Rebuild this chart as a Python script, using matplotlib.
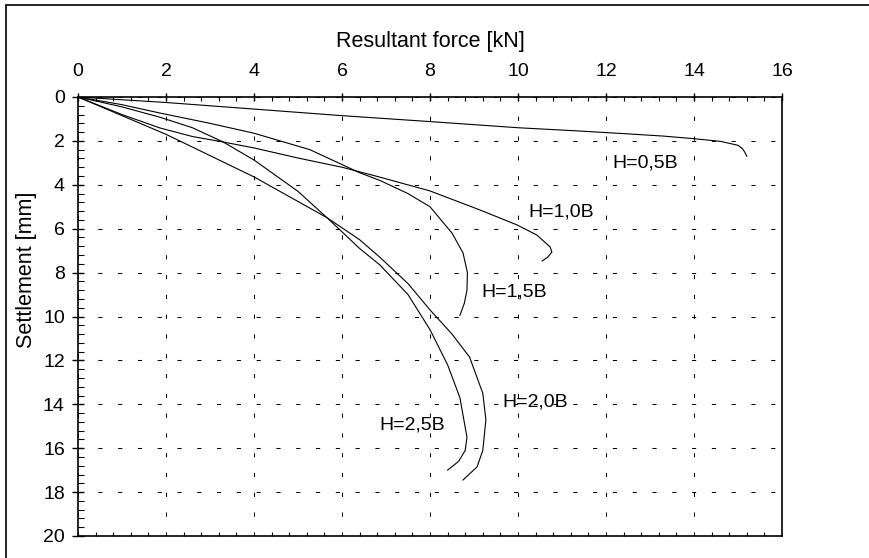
import matplotlib.pyplot as plt
from matplotlib.patches import Rectangle
from matplotlib.ticker import MultipleLocator

plt.rcParams['font.family'] = ['Liberation Sans', 'DejaVu Sans']

# H = 0,5B
f05 = [0, 2, 4, 6, 8, 10, 11.4, 12.5, 13.3, 14.0, 14.6, 15.0, 15.1, 15.15, 15.2]
s05 = [0, 0.25, 0.55, 0.85, 1.12, 1.4, 1.55, 1.68, 1.78, 1.9, 2.02, 2.2, 2.35, 2.5, 2.7]

# H = 1,0B
f10 = [0, 1.0, 1.86, 2.6, 3.3, 4.0, 5.0, 6.0, 6.86, 8.0, 9.14, 9.98, 10.43, 10.73, 10.77, 10.68, 10.55]
s10 = [0, 0.8, 1.41, 1.8, 2.05, 2.32, 2.78, 3.2, 3.65, 4.28, 5.15, 5.83, 6.29, 6.83, 7.06, 7.29, 7.47]

# H = 1,5B
f15 = [0, 1.0, 1.86, 3.0, 4.0, 5.27, 6.4, 6.86, 7.5, 8.0, 8.5, 8.75, 8.85, 8.84, 8.78, 8.68]
s15 = [0, 0.35, 0.73, 1.2, 1.65, 2.4, 3.45, 3.8, 4.4, 5.0, 6.2, 7.1, 8.0, 8.8, 9.4, 9.95]

# H = 2,0B
f20 = [0, 2.0, 4.0, 5.66, 6.4, 6.86, 7.5, 8.0, 8.5, 8.9, 9.2, 9.27, 9.2, 9.07, 8.75]
s20 = [0, 1.7, 3.64, 5.5, 6.5, 7.3, 8.5, 9.7, 10.8, 11.85, 13.5, 14.7, 16.1, 16.85, 17.45]

# H = 2,5B
f25 = [0, 1.0, 1.86, 2.6, 3.3, 4.0, 5.0, 5.66, 6.4, 6.86, 7.5, 8.0, 8.4, 8.68, 8.84, 8.8, 8.65, 8.4]
s25 = [0, 0.45, 0.92, 1.4, 2.05, 2.87, 4.3, 5.5, 6.9, 7.65, 9.0, 10.6, 12.2, 13.7, 15.5, 16.1, 16.6, 17.0]

curves = [(f05, s05), (f10, s10), (f15, s15), (f20, s20), (f25, s25)]
labels = ['H=0,5B', 'H=1,0B', 'H=1,5B', 'H=2,0B', 'H=2,5B']
label_pos = [(12.14, 3.0), (10.23, 5.24), (9.16, 8.9), (9.64, 13.9), (6.86, 14.95)]

fig = plt.figure(figsize=(8.7, 5.58), dpi=100)
ax = fig.add_axes([78 / 870, 1 - 536 / 558, 704 / 870, 439 / 558])

for f, s in curves:
    ax.plot(f, s, color='black', linewidth=0.8)

for txt, (x, y) in zip(labels, label_pos):
    ax.text(x, y, txt, fontsize=14, ha='left', va='center')

ax.set_xlim(0, 16)
ax.set_ylim(20, 0)
ax.xaxis.set_major_locator(MultipleLocator(2))
ax.xaxis.set_minor_locator(MultipleLocator(0.4))
ax.yaxis.set_major_locator(MultipleLocator(2))
ax.yaxis.set_minor_locator(MultipleLocator(0.4))

ax.xaxis.tick_top()
ax.xaxis.set_label_position('top')
ax.tick_params(axis='x', which='major', top=True, bottom=False, direction='inout',
               length=6, width=1, labelsize=14, pad=9)
ax.tick_params(axis='x', which='minor', top=True, bottom=True, direction='in', length=3, width=0.8)
ax.tick_params(axis='y', which='major', left=True, right=False, direction='inout',
               length=9, width=1, labelsize=14, pad=5)
ax.tick_params(axis='y', which='minor', left=True, right=False, direction='in', length=4, width=0.8)

ax.set_xlabel('Resultant force [kN]', fontsize=15.5)
ax.set_ylabel('Settlement [mm]', fontsize=15.5)
ax.xaxis.set_label_coords(0.5, (536 - 47) / 439)
ax.yaxis.set_label_coords((37 - 78) / 704, (536 - 270) / 439)

ax.grid(True, which='major', color='black', linestyle=(0, (4, 15)), linewidth=0.75)
for sp in ax.spines.values():
    sp.set_linewidth(1.2)

fig.patches.append(Rectangle((6 / 870, -0.1), 1.2, 1 - 5 / 558 + 0.1, transform=fig.transFigure,
                             fill=False, edgecolor='black', linewidth=1.2))

fig.savefig('out.png', dpi=100)
